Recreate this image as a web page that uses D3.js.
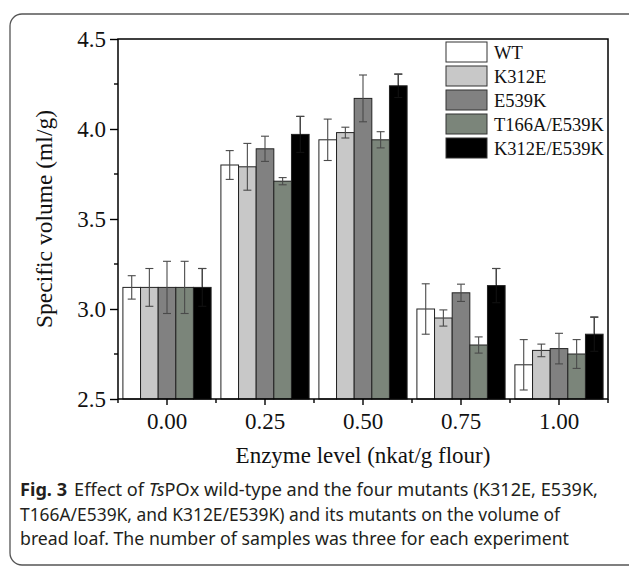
<!DOCTYPE html>
<html>
<head>
<meta charset="utf-8">
<script src="https://cdn.jsdelivr.net/npm/d3@7"></script>
<style>
  body { margin: 0; background: #fff; }
  svg { display: block; }
</style>
</head>
<body>
<div class="chart"></div>
<script>
// data
var levels = ["0.00", "0.25", "0.50", "0.75", "1.00"];
var seriesNames = ["WT", "K312E", "E539K", "T166A/E539K", "K312E/E539K"];
var seriesColors = ["#ffffff", "#c8c8c8", "#818181", "#7b857a", "#000000"];

var wt = [3.12, 3.80, 3.94, 3.00, 2.69];
var wtErr = [0.065, 0.08, 0.115, 0.14, 0.14];
var k312e = [3.12, 3.79, 3.98, 2.95, 2.77];
var k312eErr = [0.105, 0.13, 0.03, 0.045, 0.035];
var e539k = [3.12, 3.89, 4.17, 3.09, 2.78];
var e539kErr = [0.145, 0.07, 0.13, 0.048, 0.085];
var t166a = [3.12, 3.71, 3.94, 2.80, 2.75];
var t166aErr = [0.145, 0.02, 0.045, 0.045, 0.08];
var double = [3.12, 3.97, 4.24, 3.13, 2.86];
var doubleErr = [0.105, 0.10, 0.065, 0.095, 0.095];

var yTicks = [2.5, 3.0, 3.5, 4.0, 4.5];
var yMinor = [2.75, 3.25, 3.75, 4.25];

var values = [wt, k312e, e539k, t166a, double];
var errors = [wtErr, k312eErr, e539kErr, t166aErr, doubleErr];

var svgWidth = 629, svgHeight = 569;
var margin = { top: 39, right: 21, bottom: 170, left: 118 };
var width = svgWidth - margin.left - margin.right;
var height = svgHeight - margin.top - margin.bottom;

var svg = d3.select(".chart").append("svg")
    .attr("width", svgWidth)
    .attr("height", svgHeight);

// rounded figure frame
svg.append("rect")
    .attr("x", 10).attr("y", 14)
    .attr("width", 640).attr("height", 551)
    .attr("rx", 12).attr("ry", 12)
    .attr("fill", "#fff")
    .attr("stroke", "#555")
    .attr("stroke-width", 1.3);

var chart = svg.append("g")
    .attr("transform", "translate(" + margin.left + "," + margin.top + ")");

var x0 = d3.scaleBand().domain(levels).range([0, width])
    .paddingInner(0.1).paddingOuter(0.05);
var x1 = d3.scaleBand().domain(seriesNames).range([0, x0.bandwidth()]);
var y = d3.scaleLinear().domain([2.5, 4.5]).range([height, 0]);

// bars
var rows = [];
levels.forEach(function(lv, i) {
  seriesNames.forEach(function(s, j) {
    rows.push({ level: lv, series: s, color: seriesColors[j], v: values[j][i], e: errors[j][i] });
  });
});

chart.selectAll("rect.bar")
    .data(rows)
    .enter()
    .append("rect")
    .attr("class", "bar")
    .attr("x", function(d) { return x0(d.level) + x1(d.series); })
    .attr("y", function(d) { return y(d.v); })
    .attr("width", x1.bandwidth())
    .attr("height", function(d) { return y(2.5) - y(d.v); })
    .attr("fill", function(d) { return d.color; })
    .attr("stroke", "#222")
    .attr("stroke-width", 1);

// error bars (the part inside a black bar is not visible in the original)
var errG = chart.selectAll("g.err")
    .data(rows)
    .enter()
    .append("g")
    .attr("class", "err")
    .attr("stroke", function(d) { return d.color === "#000000" ? "#111" : "#4a4a4a"; })
    .attr("stroke-width", 1.1);

function cx(d) { return x0(d.level) + x1(d.series) + x1.bandwidth() / 2; }

errG.append("line")
    .attr("x1", cx).attr("x2", cx)
    .attr("y1", function(d) { return y(d.v - d.e); })
    .attr("y2", function(d) { return y(d.v + d.e); });

[-1, 1].forEach(function(sign) {
  errG.append("line")
      .attr("x1", function(d) { return cx(d) - 4; })
      .attr("x2", function(d) { return cx(d) + 4; })
      .attr("y1", function(d) { return y(d.v + sign * d.e); })
      .attr("y2", function(d) { return y(d.v + sign * d.e); });
});

// upper whisker of black bars in grey, like the rest
var blackRows = rows.filter(function(d) { return d.color === "#000000"; });
chart.selectAll("line.blackUp")
    .data(blackRows)
    .enter()
    .append("line")
    .attr("class", "blackUp")
    .attr("x1", cx).attr("x2", cx)
    .attr("y1", function(d) { return y(d.v) - 1; })
    .attr("y2", function(d) { return y(d.v + d.e); })
    .attr("stroke", "#4a4a4a")
    .attr("stroke-width", 1.1);
chart.selectAll("line.blackCap")
    .data(blackRows)
    .enter()
    .append("line")
    .attr("class", "blackCap")
    .attr("x1", function(d) { return cx(d) - 4; })
    .attr("x2", function(d) { return cx(d) + 4; })
    .attr("y1", function(d) { return y(d.v + d.e); })
    .attr("y2", function(d) { return y(d.v + d.e); })
    .attr("stroke", "#4a4a4a")
    .attr("stroke-width", 1.1);

// axes
var serif = "'Liberation Serif', 'Times New Roman', serif";

var leftAxis = d3.axisLeft(y).tickValues(yTicks).tickFormat(d3.format(".1f"))
    .tickSize(8).tickPadding(4);
var gy = chart.append("g").call(leftAxis);
gy.append("g").selectAll("line").data(yMinor).enter().append("line")
    .attr("x1", -4).attr("x2", 0)
    .attr("y1", function(d) { return y(d); }).attr("y2", function(d) { return y(d); })
    .attr("stroke", "#000");

var bottomAxis = d3.axisBottom(x0).tickSize(6).tickPadding(8);
var gx = chart.append("g").attr("transform", "translate(0," + height + ")").call(bottomAxis);
// boundary ticks between groups
var bounds = d3.range(levels.length + 1).map(function(i) { return i * x0.step(); });
gx.append("g").selectAll("line").data(bounds).enter().append("line")
    .attr("x1", function(d) { return d; }).attr("x2", function(d) { return d; })
    .attr("y1", 0).attr("y2", 4)
    .attr("stroke", "#000");

[gx, gy].forEach(function(g) {
  g.select(".domain").remove();
  g.selectAll("line").attr("stroke-width", 1.4);
  g.selectAll("text").attr("font-family", serif).attr("font-size", 23).attr("fill", "#111");
});

// frame around plot
chart.append("rect")
    .attr("x", 0).attr("y", 0)
    .attr("width", width).attr("height", height)
    .attr("fill", "none")
    .attr("stroke", "#000")
    .attr("stroke-width", 1.5);

// axis titles
svg.append("text")
    .attr("transform", "translate(52," + (margin.top + height / 2) + ") rotate(-90)")
    .attr("text-anchor", "middle")
    .attr("font-family", serif)
    .attr("font-size", 23.5)
    .attr("fill", "#111")
    .text("Specific volume (ml/g)");

svg.append("text")
    .attr("x", margin.left + width / 2)
    .attr("y", 463)
    .attr("text-anchor", "middle")
    .attr("font-family", serif)
    .attr("font-size", 23)
    .attr("fill", "#111")
    .text("Enzyme level (nkat/g flour)");

// legend
var legend = chart.append("g").attr("transform", "translate(" + (446 - margin.left) + ",3)");

var item = legend.selectAll("g.item")
    .data(seriesNames)
    .enter()
    .append("g")
    .attr("class", "item")
    .attr("transform", function(d, i) { return "translate(0," + (i * 24) + ")"; });

item.append("rect")
    .attr("width", 41).attr("height", 20)
    .attr("fill", function(d, i) { return seriesColors[i]; })
    .attr("stroke", "#333")
    .attr("stroke-width", 1);

item.append("text")
    .attr("x", 48)
    .attr("y", 17)
    .attr("font-family", serif)
    .attr("font-size", 18.5)
    .attr("fill", "#111")
    .text(function(d) { return d; });

// caption
var sans = "'Noto Sans', 'Open Sans', sans-serif";
var cap = svg.append("g")
    .attr("font-family", sans)
    .attr("font-size", 18)
    .attr("fill", "#231f20");

var line1 = cap.append("text").attr("x", 20).attr("y", 496)
    .attr("textLength", 578).attr("lengthAdjust", "spacingAndGlyphs");
line1.append("tspan").attr("font-weight", "bold").text("Fig. 3");
line1.append("tspan").attr("dx", 7).text("Effect of ");
line1.append("tspan").attr("font-style", "italic").text("Ts");
line1.append("tspan").text("POx wild-type and the four mutants (K312E, E539K,");

cap.append("text").attr("x", 20).attr("y", 521)
    .attr("textLength", 540).attr("lengthAdjust", "spacingAndGlyphs")
    .text("T166A/E539K, and K312E/E539K) and its mutants on the volume of");
cap.append("text").attr("x", 20).attr("y", 545)
    .attr("textLength", 549).attr("lengthAdjust", "spacingAndGlyphs")
    .text("bread loaf. The number of samples was three for each experiment");
</script>
</body>
</html>
